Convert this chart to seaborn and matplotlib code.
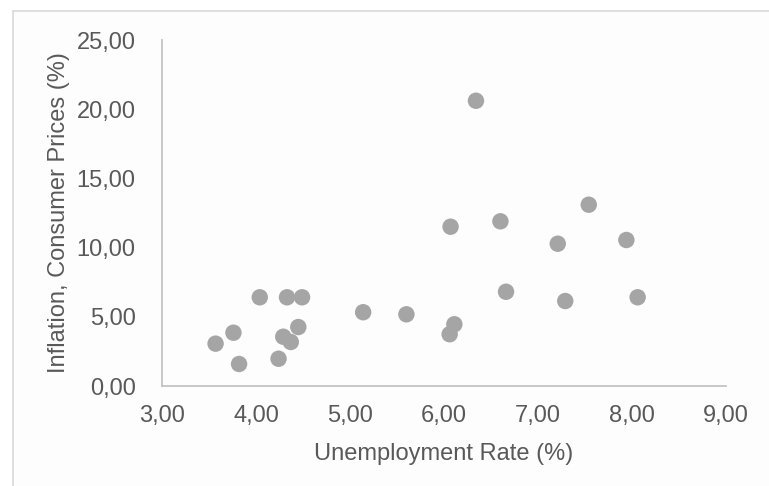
import matplotlib
matplotlib.use("Agg")
import matplotlib.pyplot as plt
import matplotlib.patches as mpatches
from matplotlib.ticker import FuncFormatter, MultipleLocator
import seaborn as sns
import pandas as pd

# Unemployment rate vs. consumer price inflation (both in %)
unemployment = [3.57, 3.76, 3.82, 4.04, 4.24, 4.29, 4.37, 4.33, 4.45, 4.49,
                5.14, 5.60, 6.06, 6.11, 6.07, 6.34, 6.60, 6.66, 7.21, 7.29,
                7.54, 7.94, 8.06]
inflation = [3.06, 3.85, 1.59, 6.41, 1.97, 3.56, 3.18, 6.41, 4.26, 6.41,
             5.33, 5.18, 3.74, 4.46, 11.51, 20.61, 11.90, 6.81, 10.28, 6.14,
             13.10, 10.55, 6.41]

x_label = "Unemployment Rate (%)"
y_label = "Inflation, Consumer Prices (%)"

df = pd.DataFrame({"unemployment": unemployment, "inflation": inflation})

sns.set_style("white")
plt.rcParams["font.family"] = ["Liberation Sans", "DejaVu Sans"]

W, H = 769, 486
fig = plt.figure(figsize=(W / 100, H / 100), dpi=100)
fig.patch.set_facecolor("white")

# chart-area frame
frame = mpatches.Rectangle((12.5 / W, -0.1), 1.2, 1.1 - 11.5 / H,
                           transform=fig.transFigure, facecolor="#fdfdfd",
                           edgecolor="#d9d9d9", linewidth=1.2, zorder=-10)
fig.patches.append(frame)

left, right, top, bottom = 162, 726, 40, 386
ax = fig.add_axes([left / W, 1 - bottom / H, (right - left) / W, (bottom - top) / H])
ax.set_facecolor("none")

sns.scatterplot(data=df, x="unemployment", y="inflation", ax=ax,
                color="#a5a5a5", s=140, edgecolor="none", linewidth=0)

ax.set_xlim(3, 9)
ax.set_ylim(0, 25)
ax.xaxis.set_major_locator(MultipleLocator(1))
ax.yaxis.set_major_locator(MultipleLocator(5))
fmt = FuncFormatter(lambda v, p: f"{v:.2f}".replace(".", ","))
ax.xaxis.set_major_formatter(fmt)
ax.yaxis.set_major_formatter(fmt)

text_color = "#595959"
ax.tick_params(axis="both", length=0, labelsize=17, colors=text_color)
ax.tick_params(axis="x", pad=14)
ax.tick_params(axis="y", pad=19)

for side in ("top", "right"):
    ax.spines[side].set_visible(False)
for side in ("left", "bottom"):
    ax.spines[side].set_color("#bfbfbf")
    ax.spines[side].set_linewidth(1.2)

ax.set_xlabel(x_label, fontsize=17, color=text_color, labelpad=11)
ax.set_ylabel(y_label, fontsize=17, color=text_color, labelpad=5)

fig.savefig("out.png", dpi=100)
